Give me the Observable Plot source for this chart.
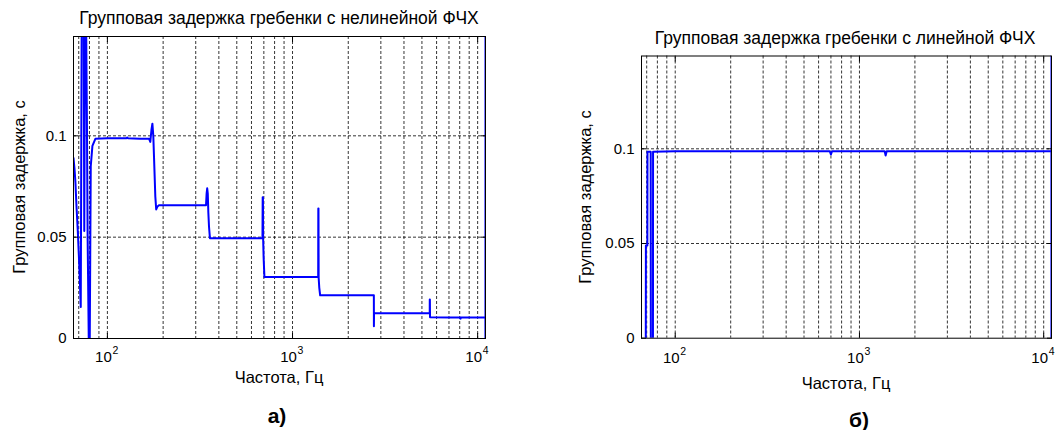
<!DOCTYPE html>
<html><head><meta charset="utf-8">
<script src="https://cdn.jsdelivr.net/npm/d3@7"></script>
<script src="https://cdn.jsdelivr.net/npm/@observablehq/plot@0.6"></script>
<style>
body{margin:0;background:#fff;}
#wrap{position:relative;width:1058px;height:430px;overflow:hidden;font-family:"Liberation Sans",Arial,sans-serif;color:#000;background:#fff;}
.panel{position:absolute;top:0;}
.lbl{position:absolute;white-space:nowrap;transform:translate(-50%,-50%);line-height:1;font-size:16.5px;}
.ttl{font-size:17.5px;}
.vlbl{transform:translate(-50%,-50%) rotate(-90deg);}
.sub{font-weight:bold;font-size:21px;}
</style></head><body><div id="wrap"></div>
<script>
// ---- data ----
const fNonlin = [65.6, 66.4, 67.2, 68.1, 69.2, 70.2, 71.1, 71.8, 72.9, 74.2, 75.0, 76.1, 77.5, 78.2, 79.3, 80.3, 81.3, 83.0, 86.1, 100, 127, 128, 129, 150, 168, 170.5, 173, 175, 177, 178.5, 180, 181.5, 183.5, 186, 190, 300, 341, 343.5, 346, 348.5, 351, 354, 358, 400, 600, 688, 690, 692, 694, 698, 705, 1000, 1376, 1378, 1381, 1384, 1395, 1410, 2000, 2750, 2752, 2756, 4000, 5510, 5512, 5520, 5530, 7000, 8050, 8080, 8110, 11010, 11018, 11025];
const gdNonlin = [0.089, 0.084, 0.077, 0.065, 0.053, 0.040, 0.027, 0.0155, 0.2, 0.2, 0.053, 0.2, 0.109, 0.05, 0, 0, 0.085, 0.095, 0.0985, 0.0988, 0.0988, 0.0992, 0.0988, 0.0985, 0.0985, 0.097, 0.103, 0.106, 0.1, 0.09, 0.08, 0.07, 0.0637, 0.065, 0.0658, 0.0658, 0.0658, 0.0715, 0.0741, 0.0715, 0.062, 0.055, 0.0495, 0.0495, 0.0495, 0.0495, 0.0697, 0.0697, 0.049, 0.04, 0.0303, 0.0303, 0.0303, 0.0642, 0.0642, 0.03, 0.025, 0.0213, 0.0213, 0.0213, 0.0061, 0.0125, 0.0125, 0.0125, 0.0192, 0.0192, 0.0105, 0.0104, 0.0103, 0.0098, 0.0103, 0.0103, 0, 0.2];

const fLin = [69.2, 69.3, 70.6, 70.7, 73.6, 73.7, 75.7, 75.8, 100, 690, 700, 710, 1370, 1387, 1405, 11010, 11018, 11025];
const gdLin = [0, 0.049, 0.049, 0.0985, 0.0985, 0, 0, 0.0985, 0.0987, 0.0987, 0.097, 0.0987, 0.0987, 0.0965, 0.0987, 0.0987, 0, 0.2];

const gridF = [70, 80, 90, 100, 200, 300, 400, 500, 600, 700, 800, 900, 1000, 2000, 3000, 4000, 5000, 6000, 7000, 8000, 9000, 10000];
const gridY = [0.05, 0.1];
const yTicks = [0, 0.05, 0.1];
const xTicks = [100, 1000, 10000];
const xExp = ["2", "3", "4"];
const xDomain = [65.6, 11025];
const yDomain = [0, 0.149];

const titles = ["Групповая задержка гребенки с нелинейной ФЧХ", "Групповая задержка гребенки с линейной ФЧХ"];
const xLabel = "Частота, Гц";
const yLabel = "Групповая задержка, с";
const subLabels = ["а)", "б)"];

const FONT = "Liberation Sans, Arial, sans-serif";

function panel(f, gd, c) {
  const data = f.map((x, i) => ({f: x, gd: gd[i]}));
  return Plot.plot({
    width: c.w, height: 430,
    marginLeft: c.ml, marginRight: c.mr, marginTop: c.mt, marginBottom: c.mb,
    style: {fontFamily: FONT, fontSize: "15px", background: "white", color: "black", overflow: "visible"},
    x: {type: "log", domain: xDomain},
    y: {domain: yDomain},
    marks: [
      Plot.ruleX(gridF, {stroke: "#000", strokeDasharray: "3,2", strokeWidth: 0.8}),
      Plot.ruleY(gridY, {stroke: "#000", strokeDasharray: "3,2", strokeWidth: 0.8}),
      Plot.line(data, {x: "f", y: "gd", stroke: "#0000ff", strokeWidth: 2, clip: true}),
      Plot.frame({stroke: "#000"}),
      Plot.axisY({anchor: "left", ticks: yTicks, tickFormat: d => String(d), tickSize: 0, tickPadding: 7, label: null, fontSize: 15}),
      Plot.axisY({anchor: "left", ticks: yTicks, tickSize: -5, tickFormat: () => "", label: null}),
      Plot.axisY({anchor: "right", ticks: yTicks, tickSize: -5, tickFormat: () => "", label: null}),
      Plot.axisX({anchor: "bottom", ticks: xTicks, tickSize: -5, tickFormat: () => "", label: null}),
      Plot.axisX({anchor: "top", ticks: xTicks, tickSize: -5, tickFormat: () => "", label: null}),
      Plot.text(xTicks, {x: d => d, frameAnchor: "bottom", text: () => "10", dy: c.tdy, dx: -4, lineAnchor: "middle", fontSize: 15}),
      Plot.text(xTicks, {x: d => d, frameAnchor: "bottom", text: (d, i) => xExp[i], dy: c.tdy - 7, dx: 5, lineAnchor: "middle", textAnchor: "start", fontSize: 10.5})
    ]
  });
}

const wrap = document.getElementById("wrap");
const cfgs = [
  {left: 0, w: 520, ml: 73, mr: 35, mt: 36, mb: 92, tdy: 19,
   title: [279, 19], xl: [279, 377], yl: [18.5, 187], sub: [277, 415]},
  {left: 520, w: 538, ml: 121, mr: 7, mt: 55.5, mb: 92.3, tdy: 20,
   title: [845, 38.6], xl: [846, 383], yl: [585, 196.5], sub: [859, 419]}
];
const series = [[fNonlin, gdNonlin], [fLin, gdLin]];
cfgs.forEach((c, i) => {
  const svg = panel(series[i][0], series[i][1], c);
  const holder = document.createElement("div");
  holder.className = "panel";
  holder.style.left = c.left + "px";
  holder.appendChild(svg);
  wrap.appendChild(holder);
  const add = (txt, pos, cls) => {
    const d = document.createElement("div");
    d.className = "lbl " + (cls || "");
    d.textContent = txt;
    d.style.left = pos[0] + "px";
    d.style.top = pos[1] + "px";
    wrap.appendChild(d);
  };
  add(titles[i], c.title, "ttl");
  add(xLabel, c.xl);
  add(yLabel, c.yl, "vlbl");
  add(subLabels[i], c.sub, "sub");
});
</script></body></html>
